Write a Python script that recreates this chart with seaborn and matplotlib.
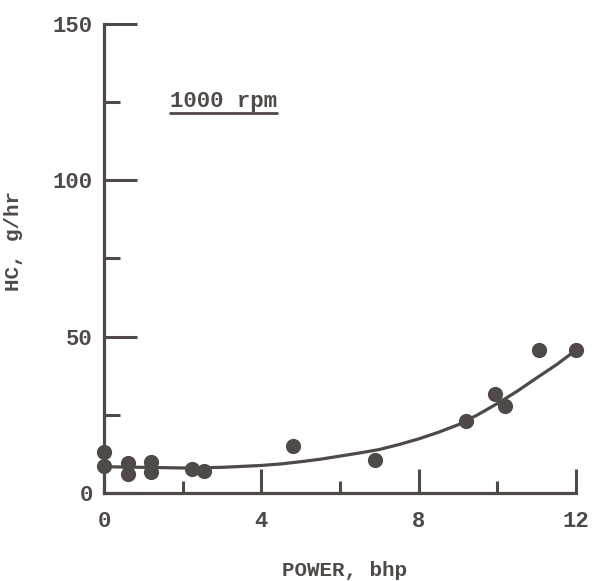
import matplotlib
matplotlib.use("Agg")
import matplotlib.pyplot as plt
import seaborn as sns
import pandas as pd
from matplotlib.lines import Line2D

# measured points, HC vs power at 1000 rpm
power = [0.0, 0.0, 0.6, 0.6, 1.2, 1.2, 2.25, 2.55, 4.8, 6.9, 9.2, 9.95, 10.2, 11.05, 12.0]
hc = [13.0, 8.5, 9.6, 6.2, 9.9, 6.8, 7.7, 7.0, 15.0, 10.5, 23.0, 31.5, 27.8, 45.7, 45.7]

# fitted curve
curve_power = [0, 0.5, 1, 1.5, 2, 2.5, 3, 3.5, 4, 4.5, 5, 5.5, 6, 6.5, 7, 7.5,
               8, 8.5, 9, 9.5, 10, 10.5, 11, 11.5, 12]
curve_hc = [8.4, 8.3, 8.2, 8.1, 8.0, 8.1, 8.2, 8.5, 8.8, 9.3, 10.0, 10.8, 11.8,
            12.8, 13.9, 15.5, 17.3, 19.4, 21.8, 25.0, 28.6, 32.5, 36.8, 41.0, 45.7]

x_major = [0, 4, 8, 12]
x_minor = [2, 6, 10]
y_major = [0, 50, 100, 150]
y_minor = [25, 75, 125]

ink = "#4f4a47"

sns.set_style("ticks")
plt.rcParams["font.family"] = ["Liberation Mono", "DejaVu Sans Mono"]
plt.rcParams["font.weight"] = "bold"

pts = pd.DataFrame({"power": power, "hc": hc})
crv = pd.DataFrame({"power": curve_power, "hc": curve_hc})

fig = plt.figure(figsize=(5.96, 5.81), dpi=100)
ax = fig.add_axes([0.1745, 0.1515, 0.7919, 0.8072])

sns.lineplot(data=crv, x="power", y="hc", ax=ax, color=ink, linewidth=2.3,
             clip_on=False)
sns.scatterplot(data=pts, x="power", y="hc", ax=ax, color=ink, s=120,
                edgecolor=ink, linewidth=0, clip_on=False, zorder=3)

ax.set_xlim(0, 12)
ax.set_ylim(0, 150)
sns.despine(ax=ax)
for side in ["left", "bottom"]:
    ax.spines[side].set_linewidth(2.3)
    ax.spines[side].set_color(ink)

ax.set_xticks(x_major)
ax.set_xticks(x_minor, minor=True)
ax.set_yticks(y_major)
ax.set_yticks(y_minor, minor=True)
ax.tick_params(axis="x", which="major", direction="in", length=17, width=2.2,
               color=ink, labelcolor=ink, labelsize=16, pad=13)
ax.tick_params(axis="x", which="minor", direction="in", length=9, width=2.2,
               color=ink)
ax.tick_params(axis="y", which="major", direction="in", length=24, width=2.2,
               color=ink, labelcolor=ink, labelsize=16, pad=8)
ax.tick_params(axis="y", which="minor", direction="in", length=11.5, width=2.2,
               color=ink)

ax.set_xlabel("POWER, bhp", fontsize=15, color=ink, fontweight="bold")
ax.set_ylabel("HC, g/hr", fontsize=15, color=ink, fontweight="bold")
ax.xaxis.set_label_coords(0.51, -0.145)
ax.yaxis.set_label_coords(-0.172, 0.537)

ax.text(0.14, 0.834, "1000 rpm", transform=ax.transAxes, fontsize=16,
        color=ink, fontweight="bold", va="center", ha="left")
ax.add_line(Line2D([0.14, 0.367], [0.81, 0.81], transform=ax.transAxes,
                   color=ink, linewidth=2.0))

fig.savefig("out.png", dpi=100)
